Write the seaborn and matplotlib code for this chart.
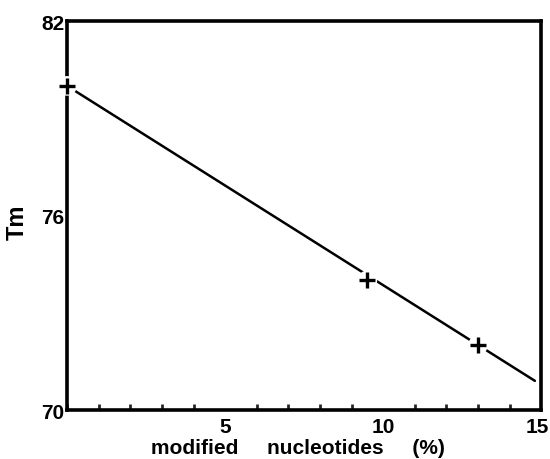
import matplotlib
matplotlib.use("Agg")
import matplotlib.pyplot as plt
import matplotlib.transforms as mtransforms
import seaborn as sns
import pandas as pd
from matplotlib.ticker import MultipleLocator

# Measured melting temperatures vs. content of modified nucleotides
modified_pct = [0.0, 9.5, 13.0]
tm_values = [80.0, 74.0, 72.0]

# Straight-line fit drawn across the data range
fit_pct = [0.0, 14.8]
fit_tm = [80.0, 70.9]

x_ticks = [5, 10, 15]
y_ticks = [70, 72, 74, 76, 78, 80, 82]
y_tick_labels = ["70", "", "", "76", "", "", "82"]

sns.set_style("white")
plt.rcParams["font.family"] = ["Liberation Sans", "DejaVu Sans"]
plt.rcParams["font.weight"] = "bold"
plt.rcParams["text.color"] = "black"
plt.rcParams["axes.labelcolor"] = "black"

fig = plt.figure(figsize=(5.5, 4.6), dpi=100)
ax = fig.add_axes([0.122, 0.1065, 0.862, 0.8455])

points = pd.DataFrame({"pct": modified_pct, "tm": tm_values})
fit = pd.DataFrame({"pct": fit_pct, "tm": fit_tm})

sns.lineplot(data=fit, x="pct", y="tm", ax=ax, color="black", linewidth=1.8,
             zorder=2)
# white halo leaves a small gap in the line around each cross
sns.scatterplot(data=points, x="pct", y="tm", ax=ax, marker="o", s=200,
                color="white", edgecolor="none", zorder=3, clip_on=False)
sns.scatterplot(data=points, x="pct", y="tm", ax=ax, marker="+", s=130,
                color="black", linewidth=2.4, zorder=4, clip_on=False)

ax.set_xlim(0, 15)
ax.set_ylim(70, 82)
ax.set_xticks(x_ticks)
ax.set_xticklabels([str(t) for t in x_ticks])
ax.xaxis.set_minor_locator(MultipleLocator(1))
ax.set_yticks(y_ticks)
ax.set_yticklabels(y_tick_labels)

ax.tick_params(axis="x", which="major", direction="in", length=7, width=2,
               labelsize=15, pad=5, colors="black")
ax.tick_params(axis="x", which="minor", direction="in", length=4, width=2,
               bottom=True)
ax.tick_params(axis="y", which="major", direction="in", length=5, width=2,
               labelsize=15, pad=2, colors="black")

# nudge the last x tick label inward so it stays inside the figure
last = ax.get_xticklabels()[-1]
last.set_transform(last.get_transform()
                   + mtransforms.ScaledTranslation(-4 / 100, 0, fig.dpi_scale_trans))

for side in ["left", "right", "top", "bottom"]:
    ax.spines[side].set_visible(True)
    ax.spines[side].set_color("black")
    ax.spines[side].set_linewidth(2.6)

ax.set_xlabel("modified     nucleotides     (%)", fontsize=15,
              fontweight="bold", color="black")
ax.xaxis.set_label_coords(0.486, -0.072)
ax.set_ylabel("Tm", fontsize=17, fontweight="bold", color="black")
ax.yaxis.set_label_coords(-0.08, 0.486)

fig.savefig("out.png", dpi=100)
